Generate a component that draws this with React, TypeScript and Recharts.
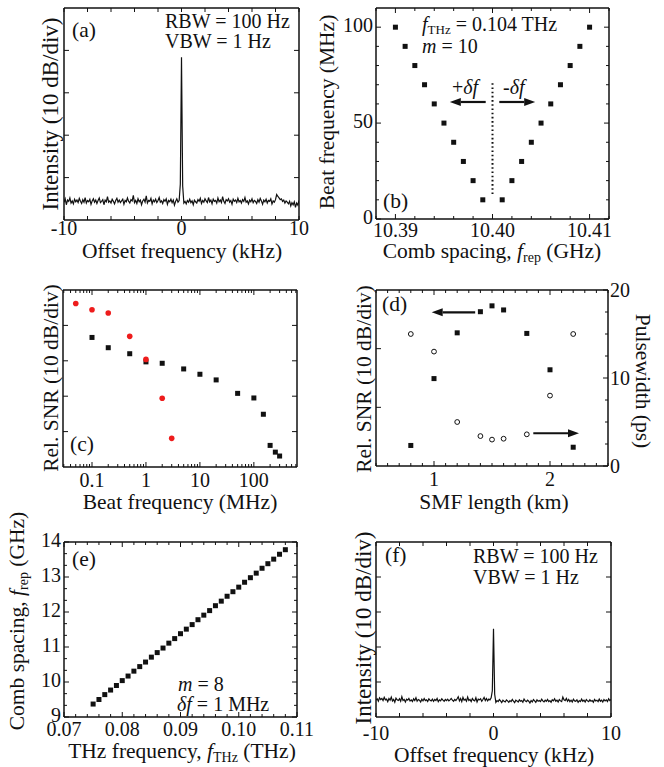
import React from 'react';
import { ComposedChart, Scatter, Line, XAxis, YAxis, ReferenceLine } from 'recharts';

const INK = '#111';
const RED = '#ee1c1c';
const FONT = '"Liberation Serif", "Times New Roman", serif';

// (a) and (f): RF spectra, 10 dB/div, -10..10 kHz sampled every 0.1 kHz
const spectrumStart = -10;
const spectrumStep = 0.1;
const spectrumA = [
  0.42, 0.50, 0.36, 0.47, 0.44, 0.52, 0.40, 0.45, 0.38, 0.49,
  0.43, 0.47, 0.41, 0.51, 0.44, 0.39, 0.48, 0.42, 0.53, 0.40,
  0.46, 0.43, 0.49, 0.37, 0.45, 0.50, 0.42, 0.47, 0.39, 0.46,
  0.52, 0.41, 0.44, 0.48, 0.36, 0.47, 0.43, 0.55, 0.42, 0.45,
  0.40, 0.49, 0.44, 0.38, 0.46, 0.51, 0.42, 0.47, 0.41, 0.45,
  0.49, 0.37, 0.46, 0.43, 0.52, 0.44, 0.40, 0.48, 0.45, 0.58,
  0.41, 0.46, 0.39, 0.50, 0.43, 0.47, 0.36, 0.45, 0.49, 0.42,
  0.57, 0.40, 0.46, 0.44, 0.51, 0.38, 0.47, 0.43, 0.49, 0.41,
  0.46, 0.53, 0.42, 0.45, 0.39, 0.48, 0.44, 0.50, 0.37, 0.46,
  0.43, 0.49, 0.41, 0.47, 0.35, 0.44, 0.50, 0.42, 0.46, 0.85,
  3.84,
  0.80, 0.40, 0.44, 0.38, 0.46, 0.42, 0.49, 0.41, 0.45, 0.36,
  0.47, 0.43, 0.40, 0.48, 0.44, 0.51, 0.39, 0.46, 0.42, 0.50,
  0.45, 0.41, 0.53, 0.43, 0.47, 0.38, 0.49, 0.44, 0.46, 0.40,
  0.52, 0.43, 0.47, 0.41, 0.55, 0.44, 0.39, 0.48, 0.45, 0.50,
  0.42, 0.46, 0.37, 0.49, 0.44, 0.47, 0.41, 0.51, 0.43, 0.46,
  0.40, 0.48, 0.44, 0.53, 0.42, 0.45, 0.38, 0.47, 0.43, 0.50,
  0.41, 0.46, 0.44, 0.39, 0.48, 0.42, 0.51, 0.45, 0.37, 0.47,
  0.43, 0.49, 0.40, 0.46, 0.44, 0.50, 0.38, 0.45, 0.42, 0.48,
  0.60, 0.56, 0.52, 0.48, 0.50, 0.44, 0.47, 0.40, 0.45, 0.42,
  0.38, 0.44, 0.33, 0.41, 0.36, 0.43, 0.30, 0.40, 0.35, 0.46,
];
const spectrumF = [
  0.48, 0.52, 0.45, 0.55, 0.50, 0.53, 0.47, 0.56, 0.49, 0.51,
  0.44, 0.53, 0.48, 0.57, 0.46, 0.50, 0.42, 0.54, 0.49, 0.47,
  0.52, 0.45, 0.58, 0.47, 0.50, 0.43, 0.51, 0.48, 0.53, 0.46,
  0.49, 0.44, 0.52, 0.47, 0.55, 0.45, 0.50, 0.48, 0.43, 0.51,
  0.46, 0.53, 0.47, 0.49, 0.44, 0.52, 0.48, 0.46, 0.51, 0.45,
  0.50, 0.47, 0.53, 0.44, 0.49, 0.46, 0.52, 0.48, 0.45, 0.50,
  0.47, 0.51, 0.46, 0.49, 0.53, 0.48, 0.45, 0.50, 0.47, 0.52,
  0.58, 0.46, 0.53, 0.44, 0.56, 0.48, 0.51, 0.45, 0.57, 0.47,
  0.50, 0.44, 0.53, 0.48, 0.46, 0.55, 0.43, 0.51, 0.49, 0.52,
  0.45, 0.50, 0.56, 0.47, 0.53, 0.46, 0.51, 0.49, 0.55, 0.75,
  2.52,
  0.65, 0.42, 0.47, 0.44, 0.50, 0.46, 0.41, 0.48, 0.45, 0.43,
  0.49, 0.46, 0.42, 0.47, 0.44, 0.50, 0.45, 0.41, 0.48, 0.46,
  0.43, 0.49, 0.45, 0.47, 0.42, 0.51, 0.46, 0.44, 0.48, 0.45,
  0.40, 0.47, 0.43, 0.50, 0.46, 0.42, 0.49, 0.45, 0.47, 0.44,
  0.51, 0.46, 0.43, 0.48, 0.45, 0.50, 0.44, 0.47, 0.42, 0.49,
  0.46, 0.52, 0.45, 0.48, 0.43, 0.50, 0.46, 0.44, 0.57, 0.49,
  0.47, 0.53, 0.45, 0.50, 0.44, 0.48, 0.43, 0.51, 0.46, 0.45,
  0.49, 0.42, 0.47, 0.44, 0.51, 0.45, 0.48, 0.43, 0.50, 0.46,
  0.44, 0.49, 0.45, 0.47, 0.42, 0.50, 0.46, 0.48, 0.44, 0.51,
  0.45, 0.48, 0.43, 0.50, 0.46, 0.49, 0.44, 0.52, 0.47, 0.50,
];

// (b) beat frequency vs comb spacing
const combB = [
  10.39, 10.391, 10.392, 10.393, 10.394, 10.395, 10.396, 10.397, 10.398, 10.399,
  10.401, 10.402, 10.403, 10.404, 10.405, 10.406, 10.407, 10.408, 10.409, 10.41,
];
const beatB = [100, 90, 80, 70, 60, 50, 40, 30, 20, 10, 10, 20, 30, 40, 50, 60, 70, 80, 90, 100];

// (c) relative SNR (div) vs beat frequency
const beatRed = [0.05, 0.1, 0.2, 0.5, 1, 2, 3];
const snrRed = [4.62, 4.44, 4.35, 3.69, 3.04, 1.94, 0.81];
const beatBlack = [0.1, 0.2, 0.5, 1, 2, 5, 10, 20, 50, 100, 150, 200, 250, 300];
const snrBlack = [3.66, 3.37, 3.2, 2.97, 2.93, 2.77, 2.62, 2.46, 2.08, 1.95, 1.49, 0.61, 0.42, 0.31];

// (d) SNR (div) and pulsewidth (ps) vs SMF length
const smfLength = [0.8, 1.0, 1.2, 1.4, 1.5, 1.6, 1.8, 2.0, 2.2];
const smfSnr = [0.35, 1.49, 2.27, 2.63, 2.73, 2.66, 2.26, 1.64, 0.32];
const smfPulse = [15.0, 13.0, 5.0, 3.4, 3.0, 3.1, 3.6, 8.0, 15.0];

// (e) comb spacing vs THz frequency
const thzFreq = [
  0.075, 0.076, 0.077, 0.078, 0.079, 0.08, 0.081, 0.082, 0.083, 0.084, 0.085, 0.086,
  0.087, 0.088, 0.089, 0.09, 0.091, 0.092, 0.093, 0.094, 0.095, 0.096, 0.097, 0.098,
  0.099, 0.1, 0.101, 0.102, 0.103, 0.104, 0.105, 0.106, 0.107, 0.108,
];
const combE = [
  9.37, 9.5, 9.64, 9.77, 9.9, 10.04, 10.17, 10.31, 10.44, 10.57, 10.71, 10.84,
  10.97, 11.11, 11.24, 11.38, 11.51, 11.64, 11.78, 11.91, 12.04, 12.18, 12.31, 12.45,
  12.58, 12.71, 12.85, 12.98, 13.11, 13.25, 13.38, 13.51, 13.65, 13.78,
];

// ticks
const specXTicks = [-10, -8, -6, -4, -2, 0, 2, 4, 6, 8, 10];
const specXLabels = [-10, 0, 10];
const div5Ticks = [1, 2, 3, 4];
const combBTicks = [10.388, 10.39, 10.392, 10.394, 10.396, 10.398, 10.4, 10.402, 10.404, 10.406, 10.408, 10.41, 10.412];
const combBLabels = [10.39, 10.4, 10.41];
const beatBTicks = [0, 10, 20, 30, 40, 50, 60, 70, 80, 90, 100];
const beatBLabels = [0, 50, 100];
const logCTicks = [
  0.03, 0.04, 0.05, 0.06, 0.07, 0.08, 0.09, 0.1, 0.2, 0.3, 0.4, 0.5, 0.6, 0.7, 0.8, 0.9,
  1, 2, 3, 4, 5, 6, 7, 8, 9, 10, 20, 30, 40, 50, 60, 70, 80, 90, 100, 200, 300, 400, 500, 600,
];
const logCLabels = [0.1, 1, 10, 100];
const smfTicks = [0.5, 0.6, 0.7, 0.8, 0.9, 1, 1.1, 1.2, 1.3, 1.4, 1.5, 1.6, 1.7, 1.8, 1.9, 2, 2.1, 2.2, 2.3, 2.4, 2.5];
const smfLabels = [1, 2];
const div3Ticks = [1, 2];
const pulseTicks = [0, 2.5, 5, 7.5, 10, 12.5, 15, 17.5, 20];
const pulseLabels = [0, 10, 20];
const thzTicks = [
  0.07, 0.072, 0.074, 0.076, 0.078, 0.08, 0.082, 0.084, 0.086, 0.088, 0.09,
  0.092, 0.094, 0.096, 0.098, 0.1, 0.102, 0.104, 0.106, 0.108, 0.11,
];
const thzLabels = [0.07, 0.08, 0.09, 0.1, 0.11];
const combETicks = [
  9, 9.333, 9.667, 10, 10.333, 10.667, 11, 11.333, 11.667, 12, 12.333, 12.667, 13, 13.333, 13.667, 14,
];
const combELabels = [9, 10, 11, 12, 13, 14];

const specA = spectrumA.map((y, i) => ({ x: spectrumStart + i * spectrumStep, y }));
const specF = spectrumF.map((y, i) => ({ x: spectrumStart + i * spectrumStep, y }));
const pointsB = combB.map((x, i) => ({ x, y: beatB[i] }));
const pointsCRed = beatRed.map((x, i) => ({ x, y: snrRed[i] }));
const pointsCBlack = beatBlack.map((x, i) => ({ x, y: snrBlack[i] }));
const pointsDSnr = smfLength.map((x, i) => ({ x, y: smfSnr[i] }));
const pointsDPulse = smfLength.map((x, i) => ({ x, y: smfPulse[i] }));
const pointsE = thzFreq.map((x, i) => ({ x, y: combE[i] }));

type Side = 'bottom' | 'top' | 'left' | 'right';
interface AxisSpec {
  domain: [number, number];
  ticks: number[];
  labels?: number[];
  fmt?: (v: number) => string;
  scale?: 'linear' | 'log';
  majorLen?: number;
  minorLen?: number;
  dy?: number;
}

const isIn = (list: number[] | undefined, v: number) =>
  (list || []).some((m) => Math.abs(m - v) < 1e-9);

function makeTick(spec: AxisSpec, side: Side, showLabels: boolean) {
  return (p: any) => {
    const v = p.payload.value as number;
    const major = isIn(spec.labels, v);
    const len = major ? spec.majorLen ?? 5 : spec.minorLen ?? 3;
    const x = p.x as number;
    const y = p.y as number;
    let x2 = x;
    let y2 = y;
    if (side === 'bottom') y2 = y - len;
    if (side === 'top') y2 = y + len;
    if (side === 'left') x2 = x + len;
    if (side === 'right') x2 = x - len;
    let label = null;
    if (showLabels && major) {
      const txt = spec.fmt ? spec.fmt(v) : String(v);
      const common = { fontFamily: FONT, fontSize: 20, fill: INK };
      if (side === 'bottom')
        label = <text x={x} y={y + (spec.dy ?? 18)} textAnchor="middle" {...common}>{txt}</text>;
      else if (side === 'left')
        label = <text x={x - 3} y={y + 5} textAnchor="end" {...common}>{txt}</text>;
      else if (side === 'right')
        label = <text x={x + 2} y={y + 7} textAnchor="start" {...common}>{txt}</text>;
    }
    return (
      <g>
        <line x1={x} y1={y} x2={x2} y2={y2} stroke={INK} strokeWidth={1} />
        {label}
      </g>
    );
  };
}

const AXIS_LINE = { stroke: INK, strokeWidth: 1.5 };

// axes are 1px thick so Recharts still draws them; margins make up for it
function boxAxes(x: AxisSpec, yl: AxisSpec, yr: AxisSpec, xLabels = true, ylLabels = false, yrLabels = false) {
  return [
    <XAxis key="xb" xAxisId="b" orientation="bottom" type="number" dataKey="x" scale={x.scale || 'linear'}
      domain={x.domain} ticks={x.ticks} interval={0} allowDataOverflow height={1} tickSize={0} tickMargin={0}
      axisLine={AXIS_LINE} tickLine={false} tick={makeTick(x, 'bottom', xLabels)} />,
    <XAxis key="xt" xAxisId="t" orientation="top" type="number" dataKey="x" scale={x.scale || 'linear'}
      domain={x.domain} ticks={x.ticks} interval={0} allowDataOverflow height={1} tickSize={0} tickMargin={0}
      axisLine={AXIS_LINE} tickLine={false} tick={makeTick(x, 'top', false)} />,
    <YAxis key="yl" yAxisId="l" orientation="left" type="number" dataKey="y" domain={yl.domain} ticks={yl.ticks}
      interval={0} allowDataOverflow width={1} tickSize={0} tickMargin={0} axisLine={AXIS_LINE} tickLine={false}
      tick={makeTick(yl, 'left', ylLabels)} />,
    <YAxis key="yr" yAxisId="r" orientation="right" type="number" dataKey="y" domain={yr.domain} ticks={yr.ticks}
      interval={0} allowDataOverflow width={1} tickSize={0} tickMargin={0} axisLine={AXIS_LINE} tickLine={false}
      tick={makeTick(yr, 'right', yrLabels)} />,
  ];
}

const PAD = 40;
interface Box { left: number; top: number; width: number; height: number }

function Frame({ box, data, children }: { box: Box; data?: any[]; children: React.ReactNode }) {
  return (
    <div style={{ position: 'absolute', left: box.left - PAD, top: box.top - PAD }}>
      <ComposedChart width={box.width + 2 * PAD} height={box.height + 2 * PAD} data={data}
        margin={{ top: PAD - 1, right: PAD - 1, bottom: PAD - 1, left: PAD - 1 }}>
        {children}
      </ComposedChart>
    </div>
  );
}

const square = (s: number) => (p: any) => (
  <rect x={p.cx - s / 2} y={p.cy - s / 2} width={s} height={s} fill={INK} />
);
const redDot = (p: any) => <circle cx={p.cx} cy={p.cy} r={2.8} fill={RED} />;
const ring = (p: any) => <circle cx={p.cx} cy={p.cy} r={2.4} fill="#fff" stroke={INK} strokeWidth={1} />;

const arrowShape = (p: any) => {
  const { x1, y1, x2, y2 } = p;
  const ang = Math.atan2(y2 - y1, x2 - x1);
  const L = 11;
  const W = 4;
  const bx = x2 - L * Math.cos(ang);
  const by = y2 - L * Math.sin(ang);
  const nx = -Math.sin(ang) * W;
  const ny = Math.cos(ang) * W;
  return (
    <g>
      <line x1={x1} y1={y1} x2={bx} y2={by} stroke={INK} strokeWidth={2.2} />
      <polygon points={`${x2},${y2} ${bx + nx},${by + ny} ${bx - nx},${by - ny}`} fill={INK} />
    </g>
  );
};

const specX: AxisSpec = { domain: [-10, 10], ticks: specXTicks, labels: specXLabels, majorLen: 4, minorLen: 4 };
const div5: AxisSpec = { domain: [0, 5], ticks: div5Ticks, majorLen: 5, minorLen: 5 };

const boxA: Box = { left: 64, top: 8, width: 235, height: 212 };
const boxB: Box = { left: 376, top: 8, width: 233, height: 211 };
const boxC: Box = { left: 63, top: 290, width: 234, height: 177 };
const boxD: Box = { left: 376, top: 290, width: 232, height: 176 };
const boxE: Box = { left: 64, top: 542, width: 233, height: 175 };
const boxF: Box = { left: 376, top: 542, width: 235, height: 175 };

const T = { fontFamily: FONT, fill: INK };

function Title({ x, y, rot, children, anchor = 'middle', size = 21.5 }: any) {
  return (
    <text transform={`translate(${x},${y})${rot ? ` rotate(${rot})` : ''}`} textAnchor={anchor} fontSize={size} {...T}>
      {children}
    </text>
  );
}

export default function App() {
  const bX: AxisSpec = { domain: [10.388, 10.412], ticks: combBTicks, labels: combBLabels, fmt: (v) => v.toFixed(2), dy: 18 };
  const bY: AxisSpec = { domain: [0, 110], ticks: beatBTicks, labels: beatBLabels };
  const cX: AxisSpec = { domain: [0.029, 630], ticks: logCTicks, labels: logCLabels, scale: 'log', dy: 20 };
  const dX: AxisSpec = { domain: [0.5, 2.5], ticks: smfTicks, labels: smfLabels, dy: 20 };
  const dL: AxisSpec = { domain: [0, 3], ticks: div3Ticks, majorLen: 5, minorLen: 5 };
  const dR: AxisSpec = { domain: [0, 20], ticks: pulseTicks, labels: pulseLabels };
  const eX: AxisSpec = { domain: [0.07, 0.11], ticks: thzTicks, labels: thzLabels, fmt: (v) => v.toFixed(2), dy: 19 };
  const eY: AxisSpec = { domain: [9, 14], ticks: combETicks, labels: combELabels };

  return (
    <div style={{ position: 'absolute', left: 0, top: 0, width: 664, height: 767, background: '#fff' }}>
      {/* (a) */}
      <Frame box={boxA} data={specA}>
        {boxAxes({ ...specX, dy: 15 }, div5, div5)}
        <Line xAxisId="b" yAxisId="l" dataKey="y" type="linear" dot={false} stroke={INK} strokeWidth={1.2}
          isAnimationActive={false} />
      </Frame>

      {/* (b) */}
      <Frame box={boxB}>
        {boxAxes(bX, bY, bY, true, true, false)}
        <ReferenceLine xAxisId="b" yAxisId="l" segment={[{ x: 10.4, y: 13 }, { x: 10.4, y: 72 }]}
          stroke={INK} strokeWidth={2} strokeDasharray="1.6 2.6" ifOverflow="visible" />
        <ReferenceLine xAxisId="b" yAxisId="l" segment={[{ x: 10.3993, y: 61 }, { x: 10.3956, y: 61 }]}
          shape={arrowShape} ifOverflow="visible" />
        <ReferenceLine xAxisId="b" yAxisId="l" segment={[{ x: 10.4007, y: 61 }, { x: 10.4044, y: 61 }]}
          shape={arrowShape} ifOverflow="visible" />
        <Scatter xAxisId="b" yAxisId="l" data={pointsB} shape={square(5)} isAnimationActive={false} />
      </Frame>

      {/* (c) */}
      <Frame box={boxC}>
        {boxAxes(cX, div5, div5)}
        <Scatter xAxisId="b" yAxisId="l" data={pointsCBlack} shape={square(5)} isAnimationActive={false} />
        <Scatter xAxisId="b" yAxisId="l" data={pointsCRed} shape={redDot} isAnimationActive={false} />
      </Frame>

      {/* (d) */}
      <Frame box={boxD}>
        {boxAxes(dX, dL, dR, true, false, true)}
        <ReferenceLine xAxisId="b" yAxisId="l" segment={[{ x: 1.355, y: 2.62 }, { x: 0.98, y: 2.62 }]}
          shape={arrowShape} ifOverflow="visible" />
        <ReferenceLine xAxisId="b" yAxisId="r" segment={[{ x: 1.856, y: 3.72 }, { x: 2.25, y: 3.72 }]}
          shape={arrowShape} ifOverflow="visible" />
        <Scatter xAxisId="b" yAxisId="l" data={pointsDSnr} shape={square(5)} isAnimationActive={false} />
        <Scatter xAxisId="b" yAxisId="r" data={pointsDPulse} shape={ring} isAnimationActive={false} />
      </Frame>

      {/* (e) */}
      <Frame box={boxE}>
        {boxAxes(eX, eY, eY, true, true, false)}
        <Scatter xAxisId="b" yAxisId="l" data={pointsE} shape={square(5)} isAnimationActive={false} />
      </Frame>

      {/* (f) */}
      <Frame box={boxF} data={specF}>
        {boxAxes({ ...specX, dy: 23 }, div5, div5)}
        <Line xAxisId="b" yAxisId="l" dataKey="y" type="linear" dot={false} stroke={INK} strokeWidth={1.2}
          isAnimationActive={false} />
      </Frame>

      <svg width={664} height={767} style={{ position: 'absolute', left: 0, top: 0, pointerEvents: 'none' }}>
        {/* (a) */}
        <Title x={58} y={114} rot={-90} size={23}>Intensity (10 dB/div)</Title>
        <Title x={182} y={258}>Offset frequency (kHz)</Title>
        <Title x={72} y={37} anchor="start">(a)</Title>
        <Title x={165} y={28} anchor="start" size={20}>RBW = 100 Hz</Title>
        <Title x={165} y={48} anchor="start" size={20}>VBW = 1 Hz</Title>

        {/* (b) */}
        <Title x={334} y={112} rot={-90}>Beat frequency (MHz)</Title>
        <Title x={492} y={258}>
          Comb spacing, <tspan fontStyle="italic">f</tspan>
          <tspan fontSize={14} dy={4}>rep</tspan>
          <tspan dy={-4}> (GHz)</tspan>
        </Title>
        <Title x={422} y={31} anchor="start" size={20}>
          <tspan fontStyle="italic">f</tspan>
          <tspan fontSize={13} dy={3}>THz</tspan>
          <tspan dy={-3}> = 0.104 THz</tspan>
        </Title>
        <Title x={422} y={53} anchor="start" size={20}>
          <tspan fontStyle="italic">m</tspan> = 10
        </Title>
        <Title x={383} y={208} anchor="start">(b)</Title>
        <Title x={452} y={94} anchor="start" size={20}>
          +<tspan fontStyle="italic">δf</tspan>
        </Title>
        <Title x={503} y={94} anchor="start" size={20}>
          -<tspan fontStyle="italic">δf</tspan>
        </Title>

        {/* (c) */}
        <Title x={58} y={378} rot={-90}>Rel. SNR (10 dB/div)</Title>
        <Title x={180} y={509}>Beat frequency (MHz)</Title>
        <Title x={70} y={451} anchor="start">(c)</Title>

        {/* (d) */}
        <Title x={371} y={379} rot={-90}>Rel. SNR (10 dB/div)</Title>
        <Title x={636} y={381} rot={90}>Pulsewidth (ps)</Title>
        <Title x={494} y={509}>SMF length (km)</Title>
        <Title x={382} y={311} anchor="start">(d)</Title>

        {/* (e) */}
        <Title x={24} y={621} rot={-90}>
          Comb spacing, <tspan fontStyle="italic">f</tspan>
          <tspan fontSize={14} dy={4}>rep</tspan>
          <tspan dy={-4}> (GHz)</tspan>
        </Title>
        <Title x={182} y={758}>
          THz frequency, <tspan fontStyle="italic">f</tspan>
          <tspan fontSize={14} dy={4}>THz</tspan>
          <tspan dy={-4}> (THz)</tspan>
        </Title>
        <Title x={72} y={566} anchor="start">(e)</Title>
        <Title x={178} y={691} anchor="start" size={20}>
          <tspan fontStyle="italic">m</tspan> = 8
        </Title>
        <Title x={177} y={711} anchor="start" size={20}>
          <tspan fontStyle="italic">δf</tspan> = 1 MHz
        </Title>

        {/* (f) */}
        <Title x={371} y={628} rot={-90} size={23}>Intensity (10 dB/div)</Title>
        <Title x={494} y={762}>Offset frequency (kHz)</Title>
        <Title x={385} y={562} anchor="start">(f)</Title>
        <Title x={473} y={563} anchor="start" size={20}>RBW = 100 Hz</Title>
        <Title x={473} y={584} anchor="start" size={20}>VBW = 1 Hz</Title>
      </svg>
    </div>
  );
}
